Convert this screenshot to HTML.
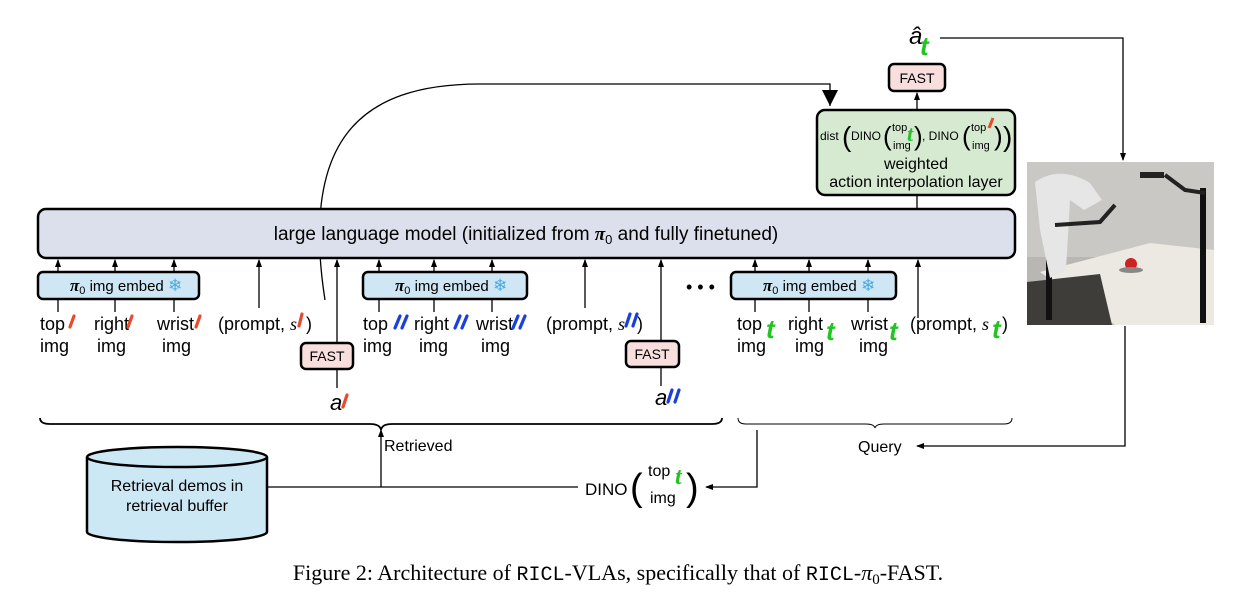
<!DOCTYPE html>
<html><head><meta charset="utf-8"><style>
body{margin:0;background:#fff}
svg text{font-family:"Liberation Sans",sans-serif}
.g{font-family:"Liberation Serif",serif!important;font-style:italic;font-weight:bold;fill:#22c422}
</style></head><body>
<svg width="1237" height="592" viewBox="0 0 1237 592" xmlns="http://www.w3.org/2000/svg">
<defs>
<marker id="ar" markerWidth="8" markerHeight="8" refX="7" refY="4" orient="auto" markerUnits="userSpaceOnUse"><path d="M0,1 L8,4 L0,7z" fill="#000"/></marker>
<marker id="big" markerWidth="18" markerHeight="16" refX="16" refY="8" orient="auto" markerUnits="userSpaceOnUse"><path d="M0,0 L16,8 L0,16z" fill="#000"/></marker>
</defs>
<g fill="none" stroke="#000" stroke-width="1.3">
<path d="M325,300 C300,140 360,84 480,84 L830,84 L830,106" marker-end="url(#big)"/>
<path d="M58,272 V260" marker-end="url(#ar)"/><path d="M115,272 V260" marker-end="url(#ar)"/><path d="M174,272 V260" marker-end="url(#ar)"/>
<path d="M379,272 V260" marker-end="url(#ar)"/><path d="M434,272 V260" marker-end="url(#ar)"/><path d="M492,272 V260" marker-end="url(#ar)"/>
<path d="M755,272 V260" marker-end="url(#ar)"/><path d="M809,272 V260" marker-end="url(#ar)"/><path d="M868,272 V260" marker-end="url(#ar)"/>
<path d="M259,308 V260" marker-end="url(#ar)"/><path d="M585,308 V260" marker-end="url(#ar)"/><path d="M918,318 V260" marker-end="url(#ar)"/>
<path d="M337,343 V260" marker-end="url(#ar)"/><path d="M661,341 V260" marker-end="url(#ar)"/>
<path d="M337,369 V388"/><path d="M661,367 V386"/>
<path d="M58,299 V312 M115,299 V312 M174,299 V312 M379,299 V312 M434,299 V312 M492,299 V312 M755,299 V312 M809,299 V312 M868,299 V312"/>
<path d="M917,209 V195"/><path d="M917,110 V93" marker-end="url(#ar)"/>
<path d="M940,38 H1123 V160" marker-end="url(#ar)"/>
<path d="M1125,326 V446 H917" marker-end="url(#ar)"/>
<path d="M757,430 V487 H706" marker-end="url(#ar)"/>
<path d="M267,487 H578"/><path d="M381,487 V430" marker-end="url(#ar)"/>
<path d="M40,418 Q40,424 50,424 L370,424 Q380,424 381,430 Q382,424 392,424 L712,424 Q722,424 722,418" stroke-width="1.8"/>
<path d="M738,418 Q738,424 746,424 L866,424 Q874,424 875,428 Q876,424 884,424 L1004,424 Q1012,424 1012,418" stroke-width="1"/>
</g>
<rect x="38" y="209" width="977" height="49" rx="8" fill="#dce0ec" stroke="#000" stroke-width="2.5"/>
<text x="526" y="240" text-anchor="middle" font-size="19">large language model (initialized from <tspan font-family="Liberation Serif" font-style="italic" font-weight="bold">π</tspan><tspan font-size="13" dy="4">0</tspan><tspan dy="-4"> and fully finetuned)</tspan></text>
<g stroke="#000" stroke-width="2.5" fill="#cfe7f5">
<rect x="38" y="272" width="161" height="27" rx="5"/><rect x="363" y="272" width="164" height="27" rx="5"/><rect x="731" y="272" width="165" height="27" rx="5"/>
</g>
<g font-size="15">
<text x="70" y="291"><tspan font-family="Liberation Serif" font-style="italic" font-weight="bold" font-size="17">π</tspan><tspan font-size="11" dy="3">0</tspan><tspan dy="-3"> img embed </tspan><tspan fill="#4aa8e0" font-size="17">❄</tspan></text>
<text x="395" y="291"><tspan font-family="Liberation Serif" font-style="italic" font-weight="bold" font-size="17">π</tspan><tspan font-size="11" dy="3">0</tspan><tspan dy="-3"> img embed </tspan><tspan fill="#4aa8e0" font-size="17">❄</tspan></text>
<text x="763" y="291"><tspan font-family="Liberation Serif" font-style="italic" font-weight="bold" font-size="17">π</tspan><tspan font-size="11" dy="3">0</tspan><tspan dy="-3"> img embed </tspan><tspan fill="#4aa8e0" font-size="17">❄</tspan></text>
</g>
<text x="686" y="293" font-size="18">• • •</text>
<g font-size="18">
<text x="40" y="330">top</text><text x="40" y="352">img</text>
<text x="94" y="330">right</text><text x="97" y="352">img</text>
<text x="157" y="330">wrist</text><text x="162" y="352">img</text>
<text x="218" y="330">(prompt, <tspan font-family="Liberation Serif" font-style="italic">s</tspan><tspan dx="9">)</tspan></text>
<text x="363" y="330">top</text><text x="363" y="352">img</text>
<text x="414" y="330">right</text><text x="419" y="352">img</text>
<text x="476" y="330">wrist</text><text x="481" y="352">img</text>
<text x="546" y="330">(prompt, <tspan font-family="Liberation Serif" font-style="italic">s</tspan><tspan dx="12">)</tspan></text>
<text x="737" y="330">top</text><text x="737" y="352">img</text>
<text x="788" y="330">right</text><text x="795" y="352">img</text>
<text x="851" y="330">wrist</text><text x="859" y="352">img</text>
<text x="910" y="330">(prompt, <tspan font-family="Liberation Serif" font-style="italic">s</tspan><tspan dx="13">)</tspan></text>
</g>
<g stroke-width="3.2" stroke-linecap="round">
<g stroke="#ea4a2a"><path d="M70,327 L74,316 M128,327 L132,316 M196,327 L200,316 M299,326 L302,314 M343,407 L347,395"/></g>
<g stroke="#1a3fe0"><path d="M395,328 L400,316 M402,328 L407,316 M455,328 L460,316 M462,328 L467,316 M513,328 L518,316 M520,328 L525,316 M626,326 L630,314 M633,326 L637,314 M668,402 L672,390 M675,402 L679,390"/></g>
</g>
<g class="g" font-size="26">
<text x="766" y="338">t</text><text x="826" y="340">t</text><text x="889" y="340">t</text><text x="992" y="338">t</text>
<text x="920" y="55">t</text>
</g>
<g fill="#f9dede" stroke="#000" stroke-width="2.5">
<rect x="301" y="343" width="52" height="26" rx="5"/><rect x="626" y="341" width="53" height="26" rx="5"/><rect x="889" y="64" width="56" height="27" rx="5"/>
</g>
<g font-size="14" text-anchor="middle"><text x="327" y="361">FAST</text><text x="652" y="359">FAST</text><text x="917" y="83">FAST</text></g>
<text x="330" y="410" font-family="Liberation Serif" font-style="italic" font-size="22">a</text>
<text x="655" y="405" font-family="Liberation Serif" font-style="italic" font-size="22">a</text>
<text x="909" y="44" font-family="Liberation Serif" font-style="italic" font-size="24">â</text>
<rect x="817" y="110" width="198" height="85" rx="8" fill="#d6ead2" stroke="#000" stroke-width="2.5"/>
<g font-size="12">
<text x="820" y="140">dist</text>
<text x="842" y="146" font-size="28">(</text>
<text x="851" y="140">DINO</text>
<text x="883" y="145" font-size="26">(</text>
<text x="892" y="131" font-size="11">top</text><text x="893" y="149" font-size="11">img</text>
<text x="914" y="145" font-size="26">)</text>
<text x="922" y="140">, DINO</text>
<text x="962" y="145" font-size="26">(</text>
<text x="971" y="131" font-size="11">top</text><text x="972" y="149" font-size="11">img</text>
<text x="994" y="145" font-size="26">)</text>
<text x="1003" y="146" font-size="28">)</text>
</g>
<text x="907" y="141" class="g" font-size="22">t</text>
<path d="M989,128 L993,118" stroke="#ea4a2a" stroke-width="3"/>
<text x="916" y="169" text-anchor="middle" font-size="16">weighted</text>
<text x="916" y="187" text-anchor="middle" font-size="16">action interpolation layer</text>
<g>
<rect x="1027" y="162" width="187" height="163" fill="#b8b7b3"/>
<rect x="1027" y="162" width="187" height="95" fill="#c9c8c5"/>
<path d="M1040,272 L1150,243 L1214,250 L1214,325 L1115,325 Z" fill="#ebe9e1"/>
<path d="M1027,282 L1100,274 L1112,325 L1027,325 Z" fill="#3e3d3a"/>
<rect x="1200" y="188" width="6" height="135" fill="#111"/>
<rect x="1046" y="180" width="6" height="140" fill="#111"/>
<path d="M1035,182 Q1060,165 1090,183 L1102,200 L1084,210 L1070,200 L1066,270 L1050,278 L1040,230 Z" fill="#e6e6e6"/>
<rect x="1140" y="172" width="24" height="6" fill="#222"/>
<path d="M1165,175 L1185,190 L1205,193" stroke="#222" stroke-width="4" fill="none"/>
<path d="M1055,225 L1100,222 L1115,205" stroke="#222" stroke-width="4" fill="none"/>
<ellipse cx="1131" cy="264" rx="6" ry="6" fill="#c22"/>
<ellipse cx="1131" cy="270" rx="12" ry="3" fill="#888"/>
</g>
<path d="M87,457 V532 A90,10 0 0 0 267,532 V457" fill="#cde8f5" stroke="#000" stroke-width="2.5"/>
<ellipse cx="177" cy="457" rx="90" ry="10" fill="#cde8f5" stroke="#000" stroke-width="2.5"/>
<text x="177" y="491" text-anchor="middle" font-size="16">Retrieval demos in</text>
<text x="177" y="511" text-anchor="middle" font-size="16">retrieval buffer</text>
<text x="384" y="451" font-size="16">Retrieved</text>
<text x="858" y="452" font-size="16">Query</text>
<text x="585" y="495" font-size="17">DINO</text>
<text x="630" y="500" font-size="38" font-weight="100">(</text>
<text x="648" y="476" font-size="16">top</text><text x="650" y="503" font-size="16">img</text>
<text x="686" y="500" font-size="38" font-weight="100">)</text>
<text x="675" y="484" class="g" font-size="24">t</text>
<text x="618" y="580" text-anchor="middle" font-size="22" style="font-family:'Liberation Serif',serif">Figure 2: Architecture of <tspan style="font-family:'Liberation Mono',monospace" font-size="20">RICL</tspan>-VLAs, specifically that of <tspan style="font-family:'Liberation Mono',monospace" font-size="20">RICL</tspan>-<tspan font-style="italic">π</tspan><tspan font-size="15" dy="4">0</tspan><tspan dy="-4">-FAST.</tspan></text>
</svg>
</body></html>
